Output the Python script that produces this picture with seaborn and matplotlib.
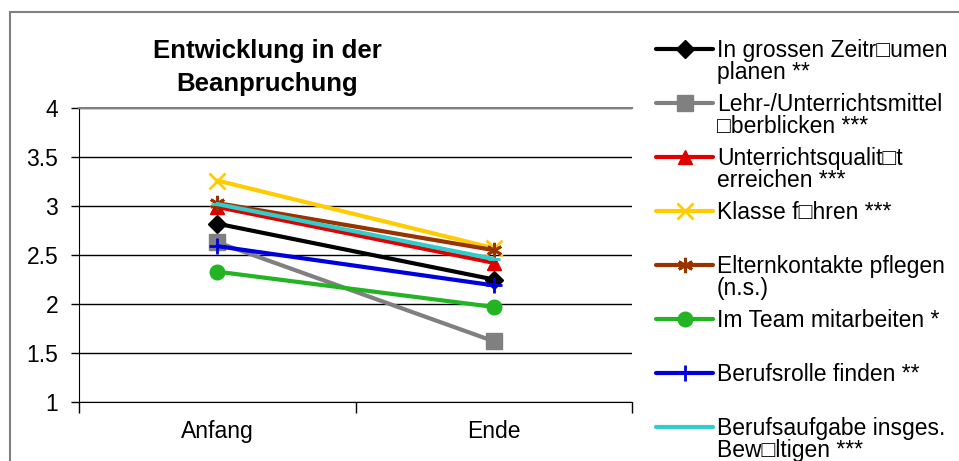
import matplotlib.pyplot as plt
import numpy as np
import seaborn as sns
from matplotlib.lines import Line2D
from matplotlib.patches import Rectangle

# Data
categories = ["Anfang", "Ende"]
labels = [
    "In grossen Zeitr\u25a1umen\nplanen **",
    "Lehr-/Unterrichtsmittel\n\u25a1berblicken ***",
    "Unterrichtsqualit\u25a1t\nerreichen ***",
    "Klasse f\u25a1hren ***",
    "Elternkontakte pflegen\n(n.s.)",
    "Im Team mitarbeiten *",
    "Berufsrolle finden **",
    "Berufsaufgabe insges.\nBew\u25a1ltigen ***",
]
anfang = [2.82, 2.63, 2.99, 3.26, 3.03, 2.33, 2.59, 3.02]
ende = [2.25, 1.62, 2.42, 2.57, 2.55, 1.97, 2.19, 2.46]

colors = ["#000000", "#808080", "#e00000", "#ffcc00", "#993300", "#22b422", "#0000dd", "#33cccc"]
markers = ["D", "s", "^", "x", (6, 2, 0), "o", "+", "_"]
msizes = [9, 11, 10, 11, 11, 10.5, 11, 9]
mews = [1, 1, 1, 2, 2, 1, 2, 2]

sns.set_style("white")
plt.rcParams["font.family"] = ["Liberation Sans", "DejaVu Sans"]
plt.rcParams["text.color"] = "black"
plt.rcParams["xtick.color"] = "black"
plt.rcParams["ytick.color"] = "black"

W, H = 959, 461
fig = plt.figure(figsize=(W / 100, H / 100), dpi=100)
ax = fig.add_axes([79 / W, (H - 402) / H, 553 / W, 294 / H])

x = np.arange(len(categories))
for i in range(len(labels)):
    sns.lineplot(x=x, y=[anfang[i], ende[i]], ax=ax, color=colors[i], marker=markers[i],
                 markersize=msizes[i], markeredgewidth=mews[i], markeredgecolor=colors[i],
                 linewidth=3, sort=False, legend=False)

ax.set_xlim(-0.5, 1.5)
ax.set_ylim(1, 4)
ax.set_yticks(np.arange(1, 4.01, 0.5))
ax.set_yticklabels(["1", "1.5", "2", "2.5", "3", "3.5", "4"], fontsize=16.5)
ax.set_xticks([-0.5, 0.5, 1.5])
ax.set_xticklabels([])
ax.set_xticks(x, minor=True)
ax.set_xticklabels(categories, minor=True, fontsize=16.5)
ax.tick_params(axis="x", which="major", length=8, width=1, color="black", direction="out", bottom=True)
ax.tick_params(axis="x", which="minor", length=0, pad=13)
ax.tick_params(axis="y", length=6, width=1, color="black", direction="out", left=True, pad=9)
ax.grid(axis="y", color="black", linewidth=1)
ax.set_axisbelow(True)
ax.set_xlabel("")
ax.set_ylabel("")
ax.spines["right"].set_visible(False)
ax.spines["top"].set_color("#808080")
ax.spines["top"].set_linewidth(1.5)
ax.spines["left"].set_color("black")
ax.spines["bottom"].set_color("black")

# title
fig.text(267 / W, 1 - 58 / H, "Entwicklung in der", ha="center", va="baseline",
         fontsize=18.5, fontweight="bold")
fig.text(267 / W, 1 - 91 / H, "Beanpruchung", ha="center", va="baseline",
         fontsize=18.5, fontweight="bold")

# legend drawn by hand
for i, lab in enumerate(labels):
    yc = 49 + i * 54
    yf = 1 - yc / H
    fig.add_artist(Line2D([656 / W, 713 / W], [yf, yf], transform=fig.transFigure,
                          color=colors[i], linewidth=3))
    fig.add_artist(Line2D([685 / W], [yf], transform=fig.transFigure, color=colors[i],
                          marker=markers[i], markersize=msizes[i], markeredgewidth=mews[i],
                          markeredgecolor=colors[i], linestyle="none"))
    for j, line in enumerate(lab.split("\n")):
        fig.text(717 / W, 1 - (yc + 8 + 22 * j) / H, line, ha="left", va="baseline", fontsize=16.5)

# outer chart frame
fig.add_artist(Rectangle((10 / W, -0.2), 1.2, 1 - 12 / H + 0.2, transform=fig.transFigure,
                         fill=False, edgecolor="#808080", linewidth=1.5))

fig.savefig("out.png", dpi=100)
